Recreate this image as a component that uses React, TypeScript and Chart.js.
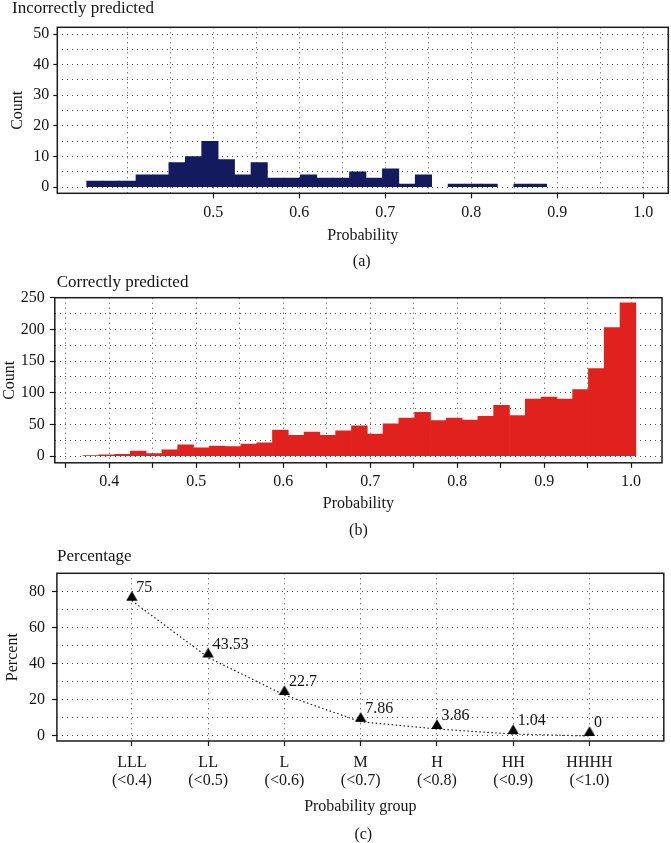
import React, { useEffect, useRef } from 'react';
import { Chart, registerables } from 'chart.js';

Chart.register(...registerables);

const FONT = '"Liberation Serif", "Times New Roman", Times, serif';
const INK = '#151515';
const GRID = '#4d4d4d';

// ---------- (a) Incorrectly predicted ----------
const incorrectBinCenters = [
  0.36234, 0.38144, 0.40054, 0.41964, 0.43874, 0.45784, 0.47694, 0.49604, 0.51514, 0.53424,
  0.55334, 0.57244, 0.59154, 0.61064, 0.62974, 0.64884, 0.66794, 0.68704, 0.70614, 0.72524,
  0.74434, 0.76344, 0.78254, 0.80164, 0.82074, 0.83984, 0.85894, 0.87804,
];
const incorrectCounts = [
  2, 2, 2, 4, 4, 8, 10, 15, 9, 4,
  8, 3, 3, 4, 3, 3, 5, 3, 6, 1,
  4, 0, 1, 1, 1, 0, 1, 1,
];
const incorrectGridX = [0.4, 0.45, 0.5, 0.55, 0.6, 0.65, 0.7, 0.75, 0.8, 0.85, 0.9, 0.95, 1.0];
const incorrectTickX = [0.5, 0.6, 0.7, 0.8, 0.9, 1.0];
const incorrectTickXLabels = ['0.5', '0.6', '0.7', '0.8', '0.9', '1.0'];
const incorrectGridY = [0, 5, 10, 15, 20, 25, 30, 35, 40, 45, 50];
const incorrectTickY = [0, 10, 20, 30, 40, 50];

// ---------- (b) Correctly predicted ----------
const correctBinCenters = [
  0.3789, 0.39706, 0.41522, 0.43338, 0.45154, 0.4697, 0.48786, 0.50602, 0.52418, 0.54234,
  0.5605, 0.57866, 0.59682, 0.61498, 0.63314, 0.6513, 0.66946, 0.68762, 0.70578, 0.72394,
  0.7421, 0.76026, 0.77842, 0.79658, 0.81474, 0.8329, 0.85106, 0.86922, 0.88738, 0.90554,
  0.9237, 0.94186, 0.96002, 0.97818, 0.99634,
];
const correctCounts = [
  1, 2, 3, 8, 4, 10, 18, 13, 16, 15,
  19, 21, 41, 33, 38, 33, 40, 48, 35, 51,
  60, 69, 56, 60, 57, 63, 80, 64, 90, 93,
  90, 105, 138, 203, 242,
];
const correctGridX = [0.35, 0.4, 0.45, 0.5, 0.55, 0.6, 0.65, 0.7, 0.75, 0.8, 0.85, 0.9, 0.95, 1.0];
const correctTickX = [0.4, 0.5, 0.6, 0.7, 0.8, 0.9, 1.0];
const correctTickXLabels = ['0.4', '0.5', '0.6', '0.7', '0.8', '0.9', '1.0'];
const correctGridY = [0, 25, 50, 75, 100, 125, 150, 175, 200, 225, 250];
const correctTickY = [0, 50, 100, 150, 200, 250];

// ---------- (c) Percentage ----------
const groupNames = ['LLL', 'LL', 'L', 'M', 'H', 'HH', 'HHHH'];
const groupRanges = ['(<0.4)', '(<0.5)', '(<0.6)', '(<0.7)', '(<0.8)', '(<0.9)', '(<1.0)'];
const percentValues = [75, 43.53, 22.7, 7.86, 3.86, 1.04, 0];
const percentGridY = [0, 10, 20, 30, 40, 50, 60, 70, 80];
const percentTickY = [0, 20, 40, 60, 80];

const has = (list: number[], v: number) => list.some((t) => Math.abs(t - v) < 1e-6);
const idxOf = (list: number[], v: number) => list.findIndex((t) => Math.abs(t - v) < 1e-6);

type AxisOpts = {
  min: number;
  max: number;
  grid: number[];
  ticks: number[];
  label: (v: number) => string | string[];
  size: number;
  tickLength: number;
  padding: number;
  fontSize: number;
  lineHeight?: number;
  title: string;
  titlePad: { top: number; bottom: number };
};

function axis(o: AxisOpts) {
  return {
    type: 'linear',
    bounds: 'data',
    min: o.min,
    max: o.max,
    offset: false,
    grid: {
      offset: false,
      color: GRID,
      lineWidth: 1,
      drawTicks: true,
      tickLength: o.tickLength,
      tickWidth: 1.2,
      tickColor: (c: any) => (c.tick && has(o.ticks, c.tick.value) ? INK : 'rgba(0,0,0,0)'),
    },
    border: { display: false, dash: [1, 4] },
    afterBuildTicks: (s: any) => {
      s.ticks = o.grid.map((value) => ({ value }));
    },
    afterFit: (s: any) => {
      if (s.isHorizontal()) s.height = o.size;
      else s.width = o.size;
    },
    ticks: {
      autoSkip: false,
      maxRotation: 0,
      minRotation: 0,
      padding: o.padding,
      color: INK,
      font: { family: FONT, size: o.fontSize, lineHeight: o.lineHeight ?? 1.2 },
      callback: (v: number) => (has(o.ticks, v) ? o.label(v) : ''),
    },
    title: {
      display: true,
      text: o.title,
      color: INK,
      font: { family: FONT, size: 16, lineHeight: 1.2 },
      padding: o.titlePad,
    },
  };
}

const framePlugin = {
  id: 'frame',
  afterDraw(chart: any) {
    const { ctx, chartArea } = chart;
    const { left, top, right, bottom } = chartArea;
    ctx.save();
    ctx.strokeStyle = '#1c1c1c';
    ctx.lineWidth = 1.5;
    ctx.strokeRect(left, top, right - left, bottom - top);
    ctx.restore();
  },
};

const valueLabelPlugin = {
  id: 'valueLabels',
  afterDatasetsDraw(chart: any) {
    const meta = chart.getDatasetMeta(0);
    const ctx = chart.ctx;
    ctx.save();
    ctx.font = `16px ${FONT}`;
    ctx.fillStyle = INK;
    ctx.textBaseline = 'middle';
    ctx.textAlign = 'left';
    meta.data.forEach((pt: any, i: number) => {
      ctx.fillText(String(percentValues[i]), pt.x + 4.5, pt.y - 13);
    });
    ctx.restore();
  },
};

function makeTriangle(): HTMLCanvasElement {
  const c = document.createElement('canvas');
  c.width = 12;
  c.height = 20;
  const g = c.getContext('2d')!;
  g.fillStyle = '#000';
  g.beginPath();
  g.moveTo(0.3, 10);
  g.lineTo(11.7, 10);
  g.lineTo(6, 0.3);
  g.closePath();
  g.fill();
  return c;
}

const baseOptions = {
  animation: false,
  responsive: false,
  maintainAspectRatio: false,
  plugins: { legend: { display: false }, tooltip: { enabled: false } },
  events: [],
};

function buildA() {
  return {
    type: 'bar',
    data: {
      datasets: [
        {
          data: incorrectBinCenters.map((x, i) => ({ x, y: incorrectCounts[i] === 0 ? null : incorrectCounts[i] })),
          backgroundColor: '#131a5e',
          borderWidth: 0,
          barPercentage: 1,
          categoryPercentage: 1,
        },
      ],
    },
    options: {
      ...baseOptions,
      layout: { padding: { top: 27.3, left: 0, right: 2.7, bottom: 0 } },
      scales: {
        x: axis({
          min: 0.3186, max: 1.029, grid: incorrectGridX, ticks: incorrectTickX,
          label: (v) => incorrectTickXLabels[idxOf(incorrectTickX, v)],
          size: 78.7, tickLength: 5, padding: 4.4, fontSize: 16,
          title: 'Probability', titlePad: { top: 0, bottom: 26.9 },
        }),
        y: axis({
          min: -2, max: 52.2, grid: incorrectGridY, ticks: incorrectTickY,
          label: (v) => String(v),
          size: 57.3, tickLength: 4, padding: 4, fontSize: 16,
          title: 'Count', titlePad: { top: 8.4, bottom: 0 },
        }),
      },
    },
    plugins: [framePlugin],
  };
}

function buildB() {
  return {
    type: 'bar',
    data: {
      datasets: [
        {
          data: correctBinCenters.map((x, i) => ({ x, y: correctCounts[i] })),
          backgroundColor: '#e0211d',
          borderWidth: 0,
          barPercentage: 1,
          categoryPercentage: 1,
        },
      ],
    },
    options: {
      ...baseOptions,
      layout: { padding: { top: 25.7, left: 0, right: 9, bottom: 0 } },
      scales: {
        x: axis({
          min: 0.3375, max: 1.0355, grid: correctGridX, ticks: correctGridX,
          label: (v) => (has(correctTickX, v) ? correctTickXLabels[idxOf(correctTickX, v)] : ''),
          size: 77.2, tickLength: 5, padding: 4.3, fontSize: 16,
          title: 'Probability', titlePad: { top: 0, bottom: 26.4 },
        }),
        y: axis({
          min: -10.5, max: 250, grid: correctGridY, ticks: correctTickY,
          label: (v) => String(v),
          size: 54.8, tickLength: 5, padding: 5, fontSize: 16,
          title: 'Count', titlePad: { top: 0, bottom: 0 },
        }),
      },
    },
    plugins: [framePlugin],
  };
}

function buildC() {
  const tri = makeTriangle();
  return {
    type: 'line',
    data: {
      datasets: [
        {
          data: percentValues.map((y, i) => ({ x: i, y })),
          borderColor: '#222',
          borderWidth: 1.2,
          borderDash: [1.5, 2.5],
          pointStyle: tri,
          pointRadius: 6,
          pointHoverRadius: 6,
          tension: 0,
          clip: false,
        },
      ],
    },
    options: {
      ...baseOptions,
      layout: { padding: { top: 33.3, left: 0, right: 1.3, bottom: 0 } },
      scales: {
        x: axis({
          min: -0.983, max: 6.975, grid: [0, 1, 2, 3, 4, 5, 6], ticks: [0, 1, 2, 3, 4, 5, 6],
          label: (v) => [groupNames[Math.round(v)], groupRanges[Math.round(v)]],
          size: 102, tickLength: 5, padding: 7.9, fontSize: 16, lineHeight: 1.1,
          title: 'Probability group', titlePad: { top: 0, bottom: 26.7 },
        }),
        y: axis({
          min: -2.8, max: 90.2, grid: percentGridY, ticks: percentTickY,
          label: (v) => String(v),
          size: 56.9, tickLength: 5, padding: 6.9, fontSize: 16,
          title: 'Percent', titlePad: { top: 3.2, bottom: 0 },
        }),
      },
    },
    plugins: [framePlugin, valueLabelPlugin],
  };
}

function ChartBox({ top, height, build }: { top: number; height: number; build: () => any }) {
  const ref = useRef<HTMLCanvasElement>(null);
  useEffect(() => {
    const chart = new Chart(ref.current as HTMLCanvasElement, build());
    return () => chart.destroy();
  }, [build]);
  return (
    <canvas
      ref={ref}
      width={671}
      height={height}
      style={{ position: 'absolute', left: 0, top, width: 671, height, display: 'block' }}
    />
  );
}

function Caption({ text, left, top, center, size = 16 }: { text: string; left: number; top: number; center?: boolean; size?: number }) {
  return (
    <div
      style={{
        position: 'absolute',
        left,
        top,
        font: `${size}px ${FONT}`,
        lineHeight: '19px',
        color: INK,
        whiteSpace: 'nowrap',
        transform: center ? 'translateX(-50%)' : undefined,
      }}
    >
      {text}
    </div>
  );
}

export default function App() {
  return (
    <div
      style={{
        position: 'absolute',
        left: 0,
        top: 0,
        width: 671,
        height: 843,
        background: '#fff',
        overflow: 'hidden',
      }}
    >
      <ChartBox top={0} height={272} build={buildA} />
      <ChartBox top={272} height={268} build={buildB} />
      <ChartBox top={540} height={303} build={buildC} />
      <Caption text="Incorrectly predicted" left={12} top={-2.5} size={17} />
      <Caption text="(a)" left={361.7} top={251.2} center />
      <Caption text="Correctly predicted" left={56.7} top={272.2} size={17} />
      <Caption text="(b)" left={358.4} top={519.5} center />
      <Caption text="Percentage" left={57} top={545.5} size={17} />
      <Caption text="(c)" left={363.3} top={823.8} center />
    </div>
  );
}
